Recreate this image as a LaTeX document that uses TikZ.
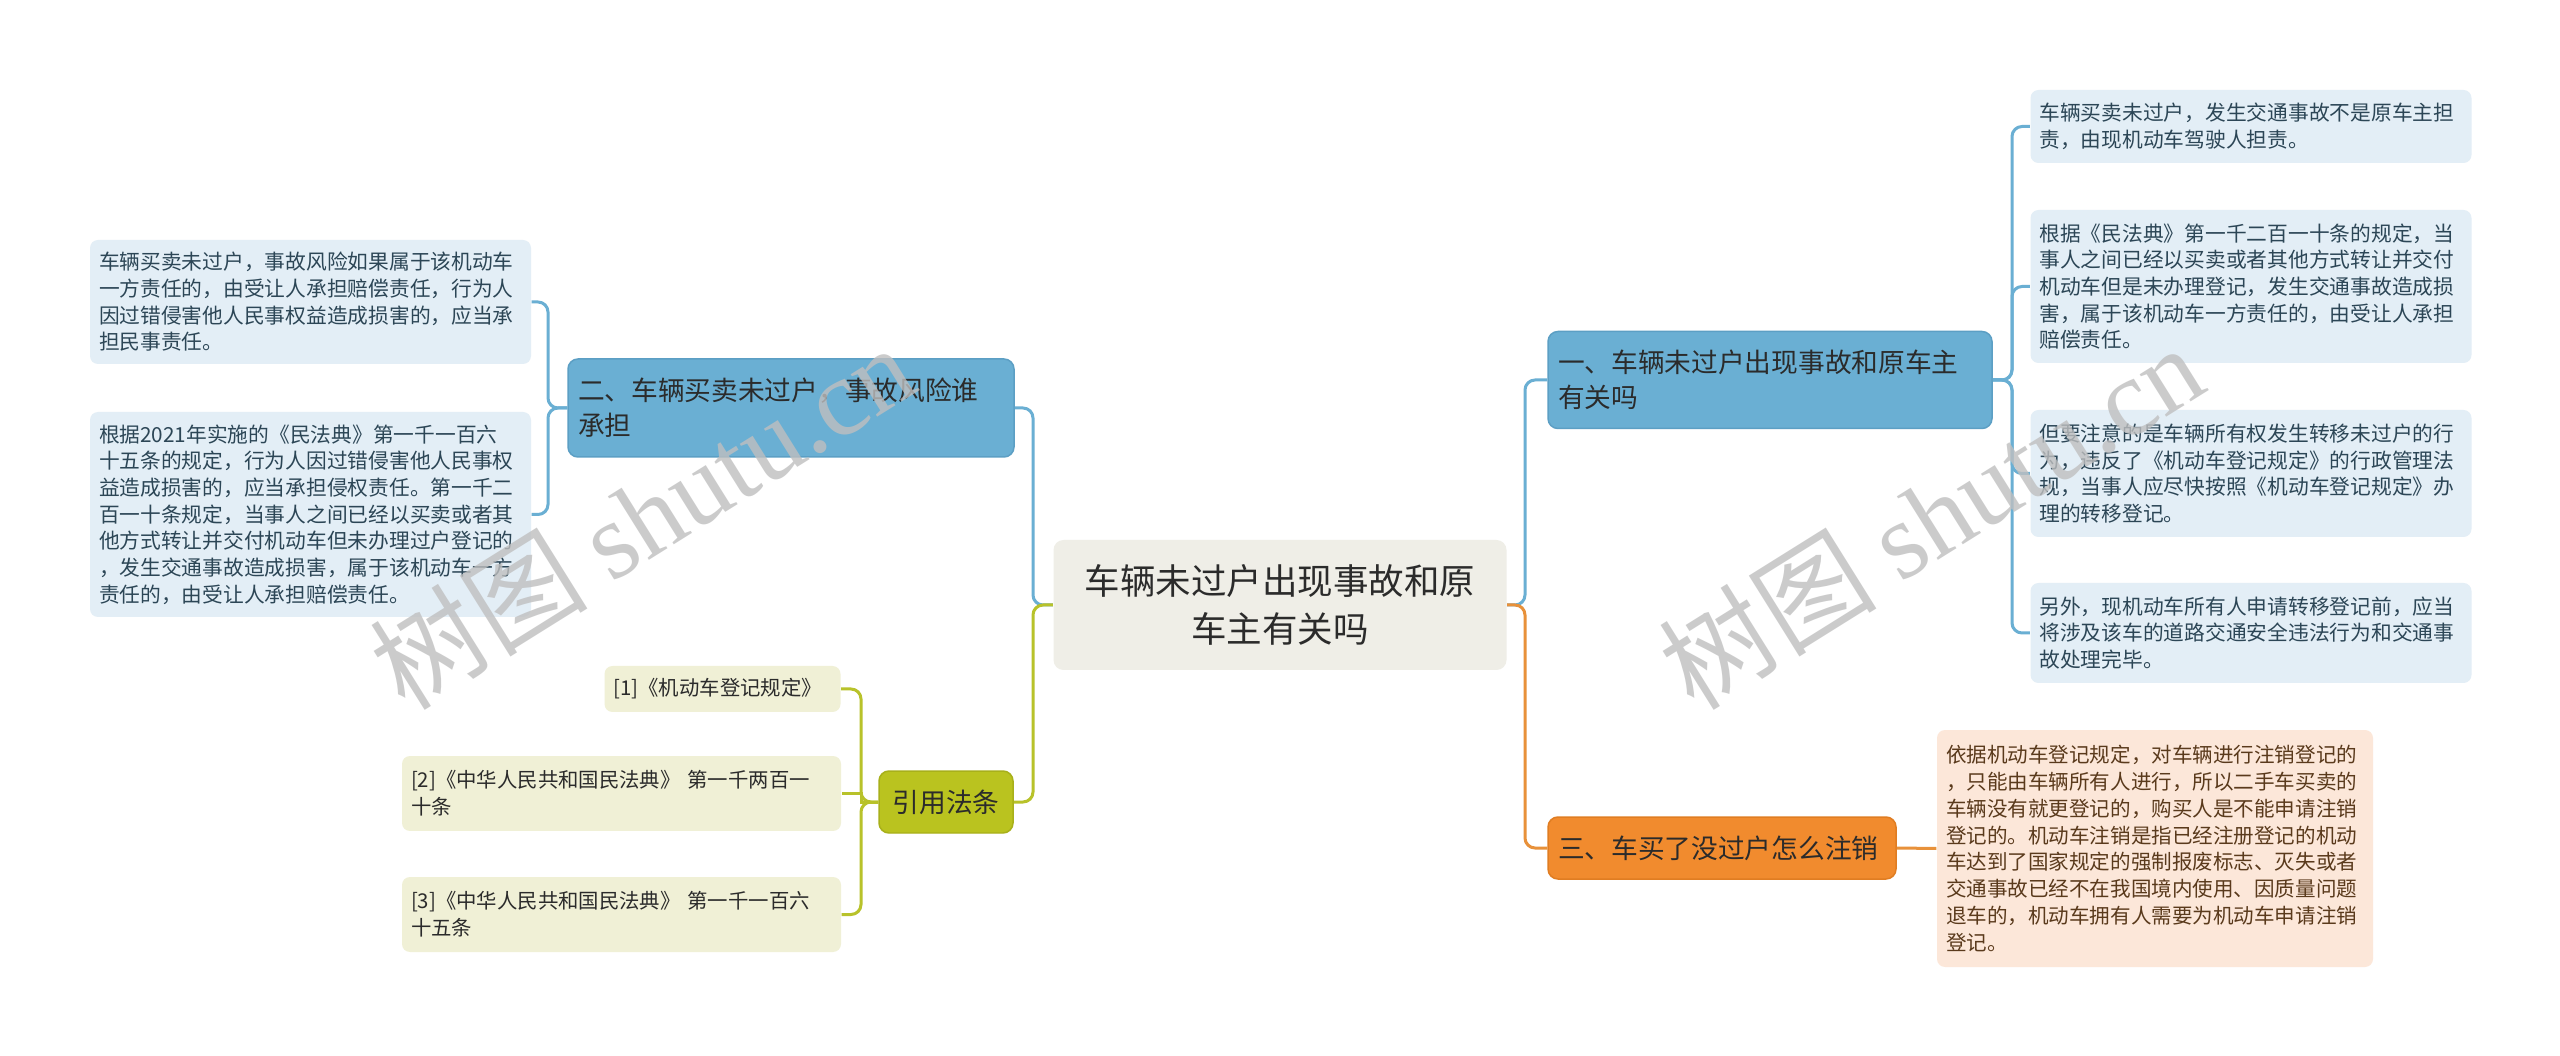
\documentclass[tikz,border=0pt]{standalone}
\usepackage{fontspec}
\setmainfont{Noto Sans CJK SC}
\newfontfamily\wmfont{Liberation Serif}
\usepackage{xcolor}
\usepackage{tikz}
\usetikzlibrary{positioning}

\definecolor{rootbg}{HTML}{EFEEE7}
\definecolor{txtdark}{HTML}{2B2B2B}
\definecolor{bluemain}{HTML}{6AAFD3}
\definecolor{blueedge}{HTML}{5C9FC4}
\definecolor{blueleaf}{HTML}{E3EEF6}
\definecolor{bluetext}{HTML}{2C4656}
\definecolor{greenmain}{HTML}{BAC31F}
\definecolor{greenedge}{HTML}{A8B01A}
\definecolor{greenline}{HTML}{B8C22A}
\definecolor{greenleaf}{HTML}{F0F0D6}
\definecolor{orangemain}{HTML}{F18B2E}
\definecolor{orangeedge}{HTML}{E07D22}
\definecolor{orangeline}{HTML}{E8913A}
\definecolor{orangeleaf}{HTML}{FCE7D9}
\definecolor{orangetext}{HTML}{5A3A1C}

\begin{document}
\begin{tikzpicture}[x=0.1mm, y=-0.1mm,
    rootnode/.style={fill=rootbg, rounded corners=1mm, align=center,
      font=\fontsize{10.1pt}{13.8pt}\selectfont, text=txtdark,
      minimum width=45.3mm, minimum height=13mm},
    topic/.style={rounded corners=1mm, align=left, text=txtdark,
      font=\fontsize{7.6pt}{10pt}\selectfont, inner xsep=1mm,
      line width=0.15mm},
    bluetopic/.style={topic, fill=bluemain, draw=blueedge},
    greentopic/.style={topic, fill=greenmain, draw=greenedge},
    orangetopic/.style={topic, fill=orangemain, draw=orangeedge},
    leaf/.style={rounded corners=0.8mm, align=left, inner xsep=0.9mm,
      font=\fontsize{5.9pt}{7.6pt}\selectfont},
    blueleafbox/.style={leaf, fill=blueleaf, text=bluetext, text width=42.3mm},
    greenleafbox/.style={leaf, fill=greenleaf, text=txtdark,
      font=\fontsize{5.8pt}{7.6pt}\selectfont},
    orangeleafbox/.style={leaf, fill=orangeleaf, text=orangetext,
      text width=41.8mm, font=\fontsize{5.85pt}{7.65pt}\selectfont},
    conn/.style={line width=0.3mm, rounded corners=1mm},
    bline/.style={conn, draw=bluemain},
    gline/.style={conn, draw=greenline},
    oline/.style={conn, draw=orangeline},
    wmark/.style={text=gray!50, opacity=0.8, rotate=32,
      font=\fontsize{31pt}{31pt}\selectfont},
  ]
    \fill[white] (0,0) rectangle (2560,1056);
    \useasboundingbox (0,0) rectangle (2560,1056);

    % central topic
    \node[rootnode] (root) at (1280,605) {车辆未过户出现事故和原\\车主有关吗};

    % left: topic two + leaves
    \node[bluetopic, text width=42.6mm, minimum height=9.8mm] (two) at (791,408)
      {二、车辆买卖未过户，事故风险谁\\承担};
    \node[blueleafbox, minimum height=12.4mm] (l1) at (310.5,302)
      {车辆买卖未过户，事故风险如果属于该机动车\\一方责任的，由受让人承担赔偿责任，行为人\\因过错侵害他人民事权益造成损害的，应当承\\担民事责任。};
    \node[blueleafbox, minimum height=20.5mm] (l2) at (310.5,514.5)
      {根据2021年实施的《民法典》第一千一百六\\十五条的规定，行为人因过错侵害他人民事权\\益造成损害的，应当承担侵权责任。第一千二\\百一十条规定，当事人之间已经以买卖或者其\\他方式转让并交付机动车但未办理过户登记的\\，发生交通事故造成损害，属于该机动车一方\\责任的，由受让人承担赔偿责任。};

    % left: cited laws
    \node[greentopic, align=center, inner xsep=1.3mm, minimum width=13.4mm,
      minimum height=6.2mm] (cite) at (946,802) {引用法条};
    \node[greenleafbox, text width=21.8mm, minimum height=4.6mm] (g1) at (722.5,689)
      {[1]《机动车登记规定》};
    \node[greenleafbox, text width=42.1mm, minimum height=7.5mm] (g2) at (621.5,793.5)
      {[2]《中华人民共和国民法典》 第一千两百一\\十条};
    \node[greenleafbox, text width=42.1mm, minimum height=7.5mm] (g3) at (621.5,914.5)
      {[3]《中华人民共和国民法典》 第一千一百六\\十五条};

    % right: topic one + leaves
    \node[bluetopic, text width=42.4mm, minimum height=9.7mm] (one) at (1770,380)
      {一、车辆未过户出现事故和原车主\\有关吗};
    \node[blueleafbox, minimum height=7.3mm] (r1) at (2251,126.5)
      {车辆买卖未过户，发生交通事故不是原车主担\\责，由现机动车驾驶人担责。};
    \node[blueleafbox, minimum height=15.3mm] (r2) at (2251,286.5)
      {根据《民法典》第一千二百一十条的规定，当\\事人之间已经以买卖或者其他方式转让并交付\\机动车但是未办理登记，发生交通事故造成损\\害，属于该机动车一方责任的，由受让人承担\\赔偿责任。};
    \node[blueleafbox, minimum height=12.7mm] (r3) at (2251,473.5)
      {但要注意的是车辆所有权发生转移未过户的行\\为，违反了《机动车登记规定》的行政管理法\\规，当事人应尽快按照《机动车登记规定》办\\理的转移登记。};
    \node[blueleafbox, minimum height=10mm] (r4) at (2251,633)
      {另外，现机动车所有人申请转移登记前，应当\\将涉及该车的道路交通安全违法行为和交通事\\故处理完毕。};

    % right: topic three + leaf
    \node[orangetopic, text width=32.8mm, minimum height=6.2mm] (three) at (1722,848)
      {三、车买了没过户怎么注销};
    \node[orangeleafbox, minimum height=23.7mm] (o1) at (2155,848.5)
      {依据机动车登记规定，对车辆进行注销登记的\\，只能由车辆所有人进行，所以二手车买卖的\\车辆没有就更登记的，购买人是不能申请注销\\登记的。机动车注销是指已经注册登记的机动\\车达到了国家规定的强制报废标志、灭失或者\\交通事故已经不在我国境内使用、因质量问题\\退车的，机动车拥有人需要为机动车申请注销\\登记。};

    % junction points
    \coordinate (ltrunk) at (1033,605);
    \coordinate (rtrunk) at (1525,605);
    \coordinate (lbrace) at (548,408);
    \coordinate (rbrace) at (2012,380);
    \coordinate (gbrace) at (861,802);

    % connectors from the centre
    \draw[bline] (root.west) -- (ltrunk) |- (two.east);
    \draw[gline] (root.west) -- (ltrunk) |- (cite.east);
    \draw[bline] (root.east) -- (rtrunk) |- (one.west);
    \draw[oline] (root.east) -- (rtrunk) |- (three.west);

    % connectors to the leaves
    \foreach \n in {l1,l2}
      \draw[bline] (two.west) -- (lbrace) |- (\n.east);
    \foreach \n in {r1,r2,r3,r4}
      \draw[bline] (one.east) -- (rbrace) |- (\n.west);
    \draw[gline] (cite.west) -- (gbrace) |- (g1.east);
    \draw[gline, rounded corners=0pt] (cite.west) -- (gbrace) |- (g2.east);
    \draw[gline] (cite.west) -- (gbrace) |- (g3.east);
    \draw[oline] (three.east) -- (o1.west);

    % watermarks
    \node[wmark] (wm1) at (642,516) {树图 {\wmfont shutu.cn}};
    \node[wmark] (wm2) at (1931,516) {树图 {\wmfont shutu.cn}};
  \end{tikzpicture}
\end{document}
